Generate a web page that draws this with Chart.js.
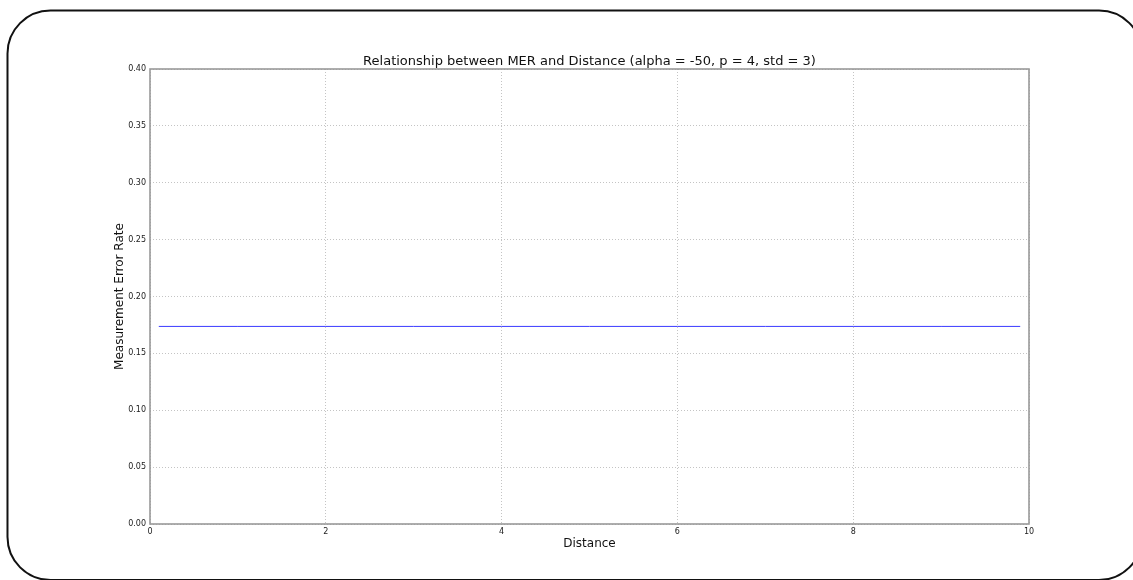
<!DOCTYPE html>
<html>
<head>
<meta charset="utf-8">
<title>MER vs Distance</title>
<script src="https://cdn.jsdelivr.net/npm/chart.js@4/dist/chart.umd.min.js"></script>
<style>
    html, body { margin: 0; padding: 0; background: #fff; }
    #wrap { width: 1133px; height: 580px; position: relative; }
</style>
</head>
<body>
<div id="wrap"><canvas id="merChart"></canvas></div>
<script>
// measurement error rate sampled along the distance axis
const distances = [0.1, 1, 2, 3, 4, 5, 6, 7, 8, 9, 9.9];
const merValues = [0.1737, 0.1737, 0.1737, 0.1737, 0.1737, 0.1737, 0.1737, 0.1737, 0.1737, 0.1737, 0.1737];

const xTickValues = [0, 2, 4, 6, 8, 10];
const yTickValues = [0, 0.05, 0.10, 0.15, 0.20, 0.25, 0.30, 0.35, 0.40];

const chartTitle = 'Relationship between MER and Distance (alpha = -50, p = 4, std = 3)';
const xAxisTitle = 'Distance';
const yAxisTitle = 'Measurement Error Rate';

const fontFamily = '"DejaVu Sans", Verdana, sans-serif';

// rounded outline around the figure plus the axes frame
const framePlugin = {
    id: 'frame',
    beforeDraw(chart) {
        const ctx = chart.ctx;
        ctx.save();
        ctx.fillStyle = '#fff';
        ctx.fillRect(0, 0, chart.width, chart.height);
        ctx.restore();
    },
    afterDraw(chart) {
        const ctx = chart.ctx;
        const a = chart.chartArea;
        ctx.save();
        ctx.strokeStyle = '#999';
        ctx.lineWidth = 1.6;
        ctx.strokeRect(a.left, a.top, a.right - a.left, a.bottom - a.top);

        ctx.strokeStyle = '#111';
        ctx.lineWidth = 2;
        ctx.beginPath();
        ctx.roundRect(7.5, 10.5, 1134.5, 569.5, 43);
        ctx.stroke();
        ctx.restore();
    }
};

document.addEventListener('DOMContentLoaded', () => {
    const canvas = document.getElementById('merChart');

    new Chart(canvas, {
        type: 'line',
        data: {
            datasets: [{
                data: distances.map((d, i) => ({ x: d, y: merValues[i] })),
                borderColor: '#3a3aff',
                borderWidth: 1,
                pointRadius: 0,
                fill: false,
                tension: 0
            }]
        },
        options: {
            responsive: true,
            maintainAspectRatio: false,
            animation: false,
            layout: {
                padding: { top: 54, left: 108, right: 104, bottom: 29 }
            },
            plugins: {
                legend: { display: false },
                tooltip: { enabled: false },
                title: {
                    display: true,
                    text: chartTitle,
                    fullSize: false,
                    color: '#111',
                    font: { family: fontFamily, size: 13, weight: 'normal', lineHeight: 1 },
                    padding: { top: 1, bottom: 1 }
                }
            },
            scales: {
                x: {
                    type: 'linear',
                    min: 0,
                    max: 10,
                    afterBuildTicks: (scale) => {
                        scale.ticks = xTickValues.map(v => ({ value: v }));
                    },
                    afterFit: (scale) => { scale.height = 27; },
                    ticks: {
                        color: '#222',
                        padding: 3,
                        maxRotation: 0,
                        font: { family: fontFamily, size: 8 },
                        callback: (v) => String(v)
                    },
                    grid: {
                        color: '#c4c4c4',
                        drawTicks: false
                    },
                    border: { display: false, dash: [1, 2] },
                    title: {
                        display: true,
                        text: xAxisTitle,
                        color: '#111',
                        font: { family: fontFamily, size: 12 },
                        padding: 0
                    }
                },
                y: {
                    type: 'linear',
                    min: 0,
                    max: 0.4,
                    afterBuildTicks: (scale) => {
                        scale.ticks = yTickValues.map(v => ({ value: v }));
                    },
                    afterFit: (scale) => { scale.width = 42; },
                    ticks: {
                        color: '#222',
                        padding: 4,
                        font: { family: fontFamily, size: 8 },
                        callback: (v) => Number(v).toFixed(2)
                    },
                    grid: {
                        color: '#c4c4c4',
                        drawTicks: false
                    },
                    border: { display: false, dash: [1, 2] },
                    title: {
                        display: true,
                        text: yAxisTitle,
                        color: '#111',
                        font: { family: fontFamily, size: 12 },
                        padding: { top: 5, bottom: 0 }
                    }
                }
            }
        },
        plugins: [framePlugin]
    });
});
</script>
</body>
</html>
